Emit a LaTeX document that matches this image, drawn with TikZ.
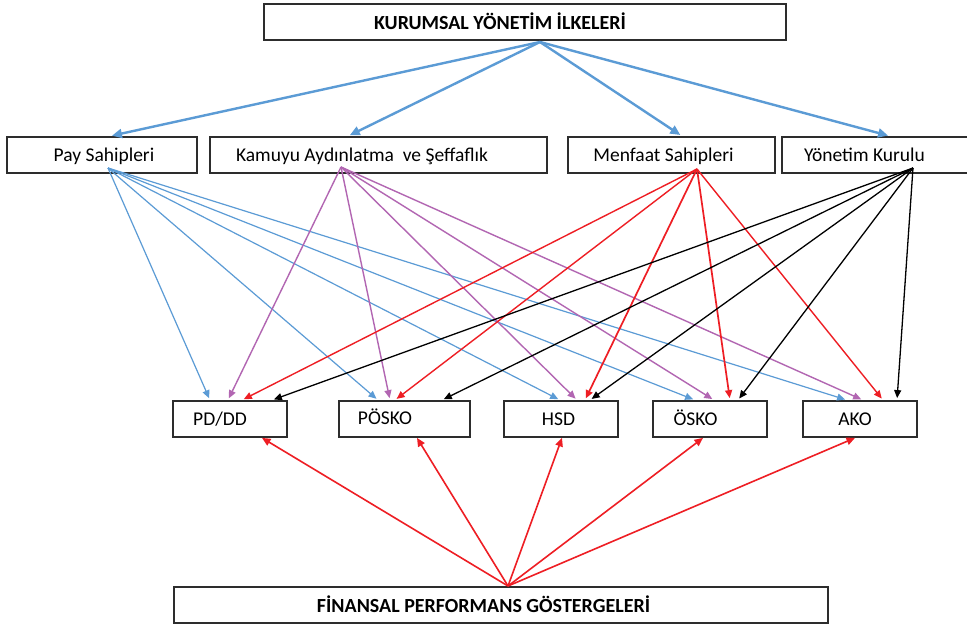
\documentclass[tikz,border=0pt]{standalone}
\usepackage{fontspec}
\setmainfont{Carlito}
\usetikzlibrary{arrows.meta,calc}
\definecolor{cblue}{RGB}{91,155,213}
\definecolor{cpurp}{RGB}{178,102,178}
\definecolor{cred}{RGB}{238,30,36}
\definecolor{cbox}{RGB}{45,45,45}
\begin{document}
\begin{tikzpicture}[x=1pt,y=-1pt,
  box/.style={draw=cbox,line width=1.8pt,minimum height=36pt,inner sep=0pt,anchor=center},
  txt/.style={anchor=base,inner sep=0pt,font=\fontsize{19.5}{22}\selectfont},
  ttl/.style={anchor=base,inner sep=0pt,font=\fontsize{20}{22}\selectfont\bfseries},
  arr/.style={-{Triangle[length=8pt,width=7pt]},line width=1.3pt,shorten >=2pt},
  barr/.style={-{Triangle[length=8.5pt,width=7.5pt]},line width=1.6pt,draw=cred},
  toparr/.style={-{Triangle[length=10pt,width=9pt]},line width=2.4pt,draw=cblue,shorten >=2pt},
]
\useasboundingbox (0,0) rectangle (967,627);
\fill[white] (0,0) rectangle (967,627);

% boxes
\node[box,minimum width=522pt] (top) at (525,22) {};
\node[box,minimum width=190pt] (pay) at (102,155) {};
\node[box,minimum width=337pt] (kam) at (378.5,155) {};
\node[box,minimum width=207pt] (men) at (671.5,155) {};
\node[box,minimum width=190pt] (yon) at (877,155) {};
\node[box,minimum width=114pt] (pddd) at (230,419) {};
\node[box,minimum width=131pt] (posko) at (404.5,419) {};
\node[box,minimum width=114pt] (hsd) at (561,419) {};
\node[box,minimum width=114pt] (osko) at (710,419) {};
\node[box,minimum width=114pt] (ako) at (860,419) {};
\node[box,minimum width=654pt] (fin) at (501,605) {};

% texts
\node[ttl] (ttop) at (500,29) {KURUMSAL YÖNETİM İLKELERİ};
\node[txt] (tpay) at (104,161) {Pay Sahipleri};
\node[txt] (tkam) at (362,161) {Kamuyu Aydınlatma\ \ ve Şeffaflık};
\node[txt] (tmen) at (663.5,161) {Menfaat Sahipleri};
\node[txt] (tyon) at (864.5,161) {Yönetim Kurulu};
\node[txt] (tpddd) at (220,425) {PD/DD};
\node[txt] (tposko) at (385,424) {PÖSKO};
\node[txt] (thsd) at (558.5,425) {HSD};
\node[txt] (tosko) at (695.5,425) {ÖSKO};
\node[txt] (tako) at (855,425) {AKO};
\node[ttl] (tfin) at (483.5,612) {FİNANSAL PERFORMANS GÖSTERGELERİ};

% source points
\coordinate (topo) at (540,42);
\coordinate (payo) at (108,168);
\coordinate (kamo) at (341,167);
\coordinate (meno) at (697,169);
\coordinate (yono) at (913,168);
\coordinate (fino) at (508,586);

% top arrows
\draw[toparr] (topo) -- (110,0 |- pay.north);
\draw[toparr] (topo) -- (348,0 |- kam.north);
\draw[toparr] (topo) -- (682,0 |- men.north);
\draw[toparr] (topo) -- (890,0 |- yon.north);

% Pay Sahipleri (blue)
\draw[arr,draw=cblue,line width=1.2pt] (payo) -- (210,0 |- pddd.north);
\draw[arr,draw=cblue,line width=1.2pt] (payo) -- (378,0 |- posko.north);
\draw[arr,draw=cblue,line width=1.2pt] (payo) -- (560,0 |- hsd.north);
\draw[arr,draw=cblue,line width=1.2pt] (payo) -- (695,0 |- osko.north);
\draw[arr,draw=cblue,line width=1.2pt] (payo) -- (847,0 |- ako.north);

% Kamuyu (purple)
\draw[arr,draw=cpurp,line width=1.4pt] (kamo) -- (228,0 |- pddd.north);
\draw[arr,draw=cpurp,line width=1.4pt] (kamo) -- (390,0 |- posko.north);
\draw[arr,draw=cpurp,line width=1.4pt] (kamo) -- (577,0 |- hsd.north);
\draw[arr,draw=cpurp,line width=1.4pt] (kamo) -- (714,0 |- osko.north);
\draw[arr,draw=cpurp,line width=1.4pt] (kamo) -- (863,0 |- ako.north);

% Menfaat (red)
\draw[arr,draw=cred,line width=1.4pt] (meno) -- (242,0 |- pddd.north);
\draw[arr,draw=cred,line width=1.4pt] (meno) -- (395,0 |- posko.north);
\draw[arr,draw=cred,line width=1.7pt] (meno) -- (585,0 |- hsd.north);
\draw[arr,draw=cred,line width=1.7pt] (meno) -- (730,0 |- osko.north);
\draw[arr,draw=cred,line width=1.4pt] (meno) -- (883,0 |- ako.north);

% Yonetim (black)
\draw[arr,draw=black] (yono) -- (272,0 |- pddd.north);
\draw[arr,draw=black] (yono) -- (442,0 |- posko.north);
\draw[arr,draw=black] (yono) -- (590,0 |- hsd.north);
\draw[arr,draw=black] (yono) -- (738,0 |- osko.north);
\draw[arr,draw=black] (yono) -- (897,0 |- ako.north);

% Finansal (red, upward)
\draw[barr] (fino) -- (262,0 |- pddd.south);
\draw[barr] (fino) -- (417,0 |- posko.south);
\draw[barr] (fino) -- (562,0 |- hsd.south);
\draw[barr] (fino) -- (703,0 |- osko.south);
\draw[barr] (fino) -- (855,0 |- ako.south);
\end{tikzpicture}
\end{document}
